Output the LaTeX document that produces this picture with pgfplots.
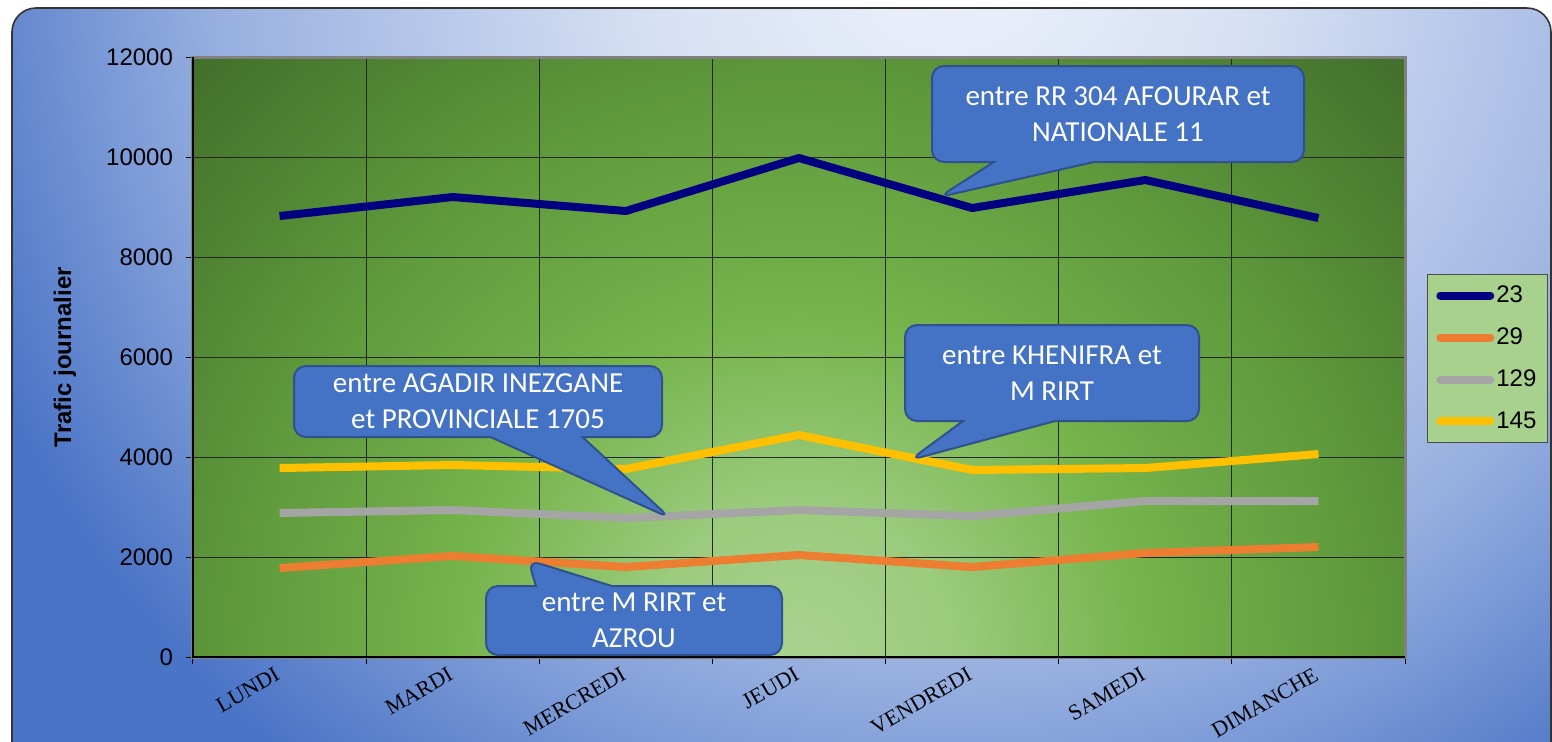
\documentclass[border=0pt]{standalone}
\usepackage{fontspec}
\setmainfont{Liberation Sans}
\newfontfamily\carlito{Carlito}
\newfontfamily\libserif{Liberation Serif}
\usepackage{pgfplots}
\pgfplotsset{compat=1.18}
\usetikzlibrary{shapes.callouts}

\definecolor{c23}{HTML}{000080}
\definecolor{c29}{HTML}{ED7D31}
\definecolor{c129}{HTML}{A5A5A5}
\definecolor{c145}{HTML}{FFC000}
\definecolor{cbox}{HTML}{4472C4}
\definecolor{cboxd}{HTML}{2F528F}
\definecolor{legbg}{HTML}{A9D18E}
\definecolor{g0}{HTML}{AAD28F}
\definecolor{g1}{HTML}{9BCB7D}
\definecolor{g2}{HTML}{76B44C}
\definecolor{g3}{HTML}{5F9A3C}
\definecolor{g4}{HTML}{426F2B}
\definecolor{b0}{HTML}{EEF2FB}
\definecolor{b1}{HTML}{D6E0F3}
\definecolor{b2}{HTML}{98B0E0}
\definecolor{b3}{HTML}{4A74C6}

\pgfdeclareradialshading{greenrad}{\pgfpointorigin}{color(0bp)=(g0); color(4.5bp)=(g1); color(10bp)=(g2); color(16.5bp)=(g3); color(25bp)=(g4); color(50bp)=(g4)}
\pgfdeclareradialshading{bluerad}{\pgfpointorigin}{color(0bp)=(b0); color(7.5bp)=(b1); color(17.5bp)=(b2); color(25bp)=(b3); color(50bp)=(b3)}

\tikzset{callout/.style={rectangle callout, rounded corners=6pt, fill=cbox, draw=cboxd, line width=1pt, text=white, font=\carlito\fontsize{14.5}{18}\selectfont, align=center, inner sep=0pt}}

\begin{document}
\begin{tikzpicture}
\useasboundingbox (0,0) rectangle (776pt,-370.5pt);
\begin{scope}[x=0.5pt,y=-0.5pt]
  \clip (0,0) rectangle (1552,741);
  \begin{scope}
    \clip[rounded corners=12pt] (12,8) rectangle (1551,800);
    \fill[b3] (0,0) rectangle (1560,800);
    \shade[shading=bluerad] (950,-60) circle (525pt);
  \end{scope}
  \draw[line width=0.8pt, black!80, rounded corners=12pt] (12,8) rectangle (1551,800);
  \begin{scope}
    \clip (193,57) rectangle (1405,657);
    \fill[g4] (193,57) rectangle (1405,657);
    \shade[shading=greenrad] (800,657) circle (425pt);
  \end{scope}
\end{scope}

\begin{axis}[
  at={(96.5pt,-328.5pt)}, anchor=south west,
  width=606pt, height=300pt, scale only axis,
  xmin=-0.5, xmax=6.5, ymin=0, ymax=12000,
  xtick={0,...,6},
  xticklabels={LUNDI,MARDI,MERCREDI,JEUDI,VENDREDI,SAMEDI,DIMANCHE},
  minor xtick={-0.5,0.5,...,6.5},
  major x tick style={draw=none},
  xtick pos=bottom, ytick pos=left,
  xminorgrids=true,
  minor x grid style={black!85, line width=0.5pt},
  ytick={0,2000,...,12000},
  ymajorgrids=true,
  major y grid style={black!85, line width=0.5pt},
  tick align=outside,
  major tick length=3.5pt, minor tick length=3.5pt,
  tick style={black, line width=0.5pt},
  axis line style={draw=black!50, line width=1.5pt},
  /pgf/number format/assume math mode=true,
  scaled y ticks=false,
  yticklabel style={font=\fontsize{12}{14}\selectfont, /pgf/number format/1000 sep={}, xshift=-3pt},
  xticklabel style={font=\libserif\fontsize{11}{12}\selectfont, rotate=30, anchor=north east, inner sep=1pt, yshift=1.5pt, xshift=-2pt},
  ylabel={\bfseries Trafic journalier},
  ylabel style={at={(axis description cs:0,0.5)}, anchor=center, yshift=64pt, font=\fontsize{12}{14}\selectfont},
  legend style={at={(axis description cs:1.018,0.638)}, anchor=north west, fill=legbg, draw=black!70, line width=0.5pt,
    font=\fontsize{12}{14}\selectfont, row sep=9.1pt, inner xsep=4.5pt, inner ysep=4.5pt, nodes={inner sep=1pt}},
  legend cell align=left,
  legend image code/.code={\draw[#1, line width=4pt, line cap=round] (2pt,0pt) -- (27pt,0pt);},
  every axis plot/.append style={line width=4pt, line join=round, mark=none},
]
\addplot[c23] coordinates {(0,8820) (1,9200) (2,8920) (3,9980) (4,8980) (5,9540) (6,8780)};
\addlegendentry{23}
\addplot[c29] coordinates {(0,1780) (1,2020) (2,1800) (3,2040) (4,1800) (5,2080) (6,2200)};
\addlegendentry{29}
\addplot[c129] coordinates {(0,2880) (1,2940) (2,2780) (3,2940) (4,2820) (5,3120) (6,3120)};
\addlegendentry{129}
\addplot[c145] coordinates {(0,3780) (1,3840) (2,3760) (3,4440) (4,3740) (5,3780) (6,4060)};
\addlegendentry{145}
\end{axis}

\begin{scope}[x=0.5pt,y=-0.5pt]
  \draw[black, line width=0.8pt] (193,57) -- (193,657) -- (1405,657);
  \node[callout, minimum width=186pt, minimum height=48pt, callout pointer width=50pt, callout absolute pointer={(939,197)}] at (1118,114) {entre RR 304 AFOURAR et\\NATIONALE 11};
  \node[callout, minimum width=147pt, minimum height=48pt, callout pointer width=46pt, callout absolute pointer={(910,460)}] at (1052,373) {entre KHENIFRA et\\M RIRT};
  \node[callout, minimum width=184pt, minimum height=35.5pt, callout pointer width=46pt, callout absolute pointer={(670,518)}] at (478,401.5) {entre AGADIR INEZGANE\\et PROVINCIALE 1705};
  \node[callout, minimum width=148pt, minimum height=34.5pt, callout pointer width=38pt, callout absolute pointer={(528,560)}] at (634,620.5) {entre M RIRT et\\AZROU};
\end{scope}
\end{tikzpicture}
\end{document}
